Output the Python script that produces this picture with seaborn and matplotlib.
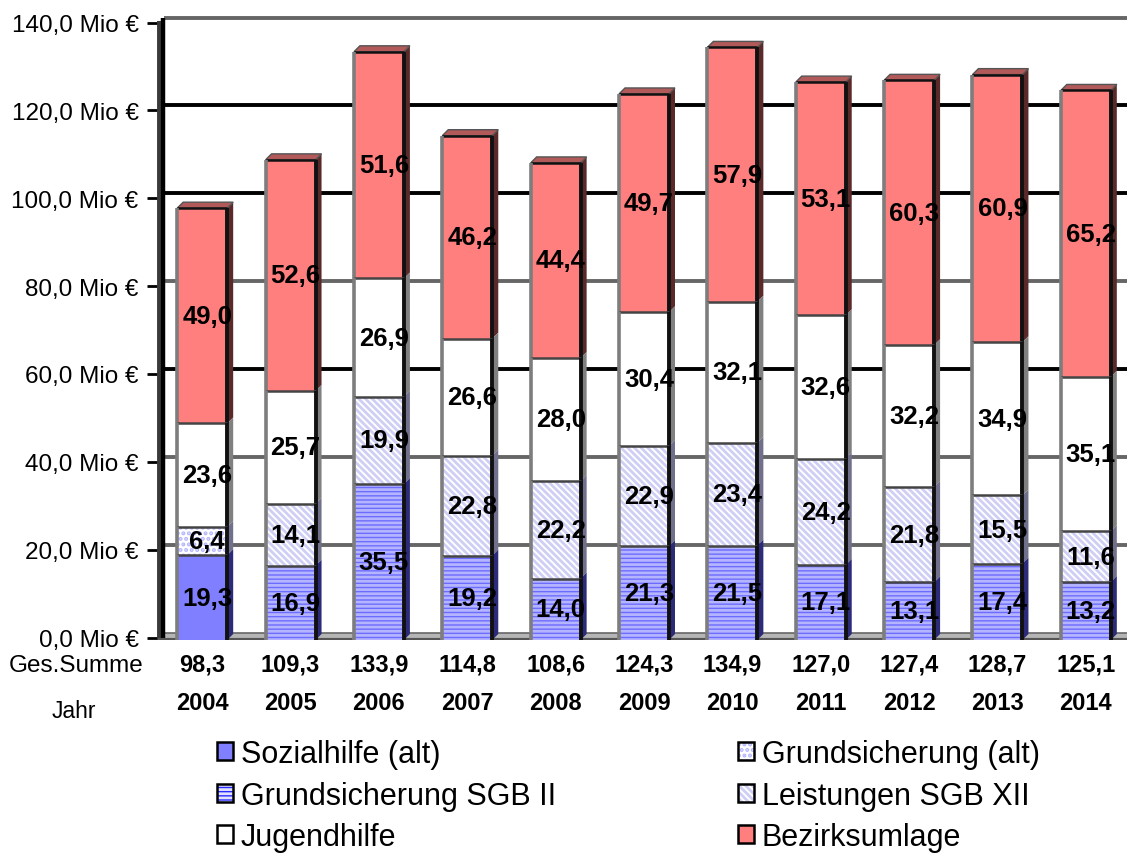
import numpy as np
import matplotlib
matplotlib.use("Agg")
import matplotlib.pyplot as plt
from matplotlib.colors import to_rgba
from matplotlib.patches import Patch, Polygon
from matplotlib.transforms import ScaledTranslation
import seaborn as sns

years = ["2004", "2005", "2006", "2007", "2008", "2009", "2010", "2011", "2012", "2013", "2014"]
totals = [98.3, 109.3, 133.9, 114.8, 108.6, 124.3, 134.9, 127.0, 127.4, 128.7, 125.1]
sozialhilfe = [19.3, 0, 0, 0, 0, 0, 0, 0, 0, 0, 0]
grund_alt = [6.4, 0, 0, 0, 0, 0, 0, 0, 0, 0, 0]
sgb2 = [0, 16.9, 35.5, 19.2, 14.0, 21.3, 21.5, 17.1, 13.1, 17.4, 13.2]
sgb12 = [0, 14.1, 19.9, 22.8, 22.2, 22.9, 23.4, 24.2, 21.8, 15.5, 11.6]
jugend = [23.6, 25.7, 26.9, 26.6, 28.0, 30.4, 32.1, 32.6, 32.2, 34.9, 35.1]
bezirk = [49.0, 52.6, 51.6, 46.2, 44.4, 49.7, 57.9, 53.1, 60.3, 60.9, 65.2]
y_ticks = [0, 20, 40, 60, 80, 100, 120, 140]
grid_dark = [60, 100, 120]
grid_gray = [20, 40, 80, 140]

stack = [
    ("Sozialhilfe (alt)", sozialhilfe, "#7f7fff", None, None, "#2b2b7a"),
    ("Grundsicherung (alt)", grund_alt, "#ffffff", "...", "#b4b4ff", "#70708c"),
    ("Grundsicherung SGB II", sgb2, "#6c6cff", "----", "#b4b4ff", "#2b2b7a"),
    ("Leistungen SGB XII", sgb12, "#ffffff", "\\\\\\\\\\", "#cfcff5", "#70708c"),
    ("Jugendhilfe", jugend, "#ffffff", None, None, "#808080"),
    ("Bezirksumlage", bezirk, "#ff7f7f", None, None, "#5a2a2a"),
]

W, H = 1127, 854
DPI = 100
sns.set_theme(style="white")
plt.rcParams["font.family"] = ["Liberation Sans", "DejaVu Sans"]
plt.rcParams["hatch.linewidth"] = 2.0
plt.rcParams["text.color"] = "black"

fig = plt.figure(figsize=(W / DPI, H / DPI), dpi=DPI)
AX_L, AX_R, Y0, Y140 = 158, 1130, 641, 26
ax = fig.add_axes([AX_L / W, 1 - Y0 / H, (AX_R - AX_L) / W, (Y0 - Y140) / H])
px_x = (AX_R - AX_L) / 11
px_y = (Y0 - Y140) / 140
D = 6
dx, dy = D / px_x, D / px_y

cums = np.cumsum([s[1] for s in stack], axis=0)
bar_w = 50 / px_x
for i in range(len(stack) - 1, -1, -1):
    name, vals, fc, hatch, hc, side = stack[i]
    sns.barplot(x=years, y=cums[i], color=fc, saturation=1, width=bar_w, ax=ax,
                linewidth=0, zorder=2, order=years, err_kws={"linewidth": 0})
    bars = ax.patches[-len(years):]
    for k, b in enumerate(bars):
        if hatch:
            b.set_hatch(hatch)
            b.set_edgecolor(hc)
            b.set_linewidth(0)
        v = vals[k]
        if v <= 0:
            continue
        x0, x1 = b.get_x(), b.get_x() + b.get_width()
        top = cums[i][k]
        bot = top - v
        ax.add_patch(Polygon([(x1, bot), (x1 + dx, bot + dy), (x1 + dx, top + dy), (x1, top)],
                             closed=True, fc=side, ec="none", zorder=1.5, clip_on=False))
        ax.plot([x0, x1], [top, top], color="#444444" if i < 5 else "#111111", lw=1.8, zorder=3, solid_capstyle="butt")
        ax.plot([x1, x1], [bot, top], color="#111111", lw=2.8, zorder=3, solid_capstyle="butt")
        ax.plot([x0, x0], [bot, top], color="#7d7d7d", lw=2.6, zorder=3, solid_capstyle="butt")
        if i == len(stack) - 1:
            ax.add_patch(Polygon([(x0, top), (x0 + dx, top + dy), (x1 + dx, top + dy), (x1, top)],
                                 closed=True, fc="#b25959", ec="#555555", lw=1.0, zorder=1.6))
        ax.annotate(f"{v:.1f}".replace(".", ","), (k, bot + v / 2), xytext=(3.6, 0),
                    textcoords="offset points", ha="center", va="center",
                    fontsize=18.5, fontweight="bold", color="black", zorder=6)

ax.set_xlim(-0.5, 10.5)
ax.set_ylim(0, 140)
ax.set_xlabel("")
ax.set_ylabel("")
ax.set_xticks([])
ax.set_yticks(y_ticks)
ax.set_yticklabels([f"{t:.1f}".replace(".", ",") + " Mio €" for t in y_ticks], fontsize=17.5, color="black")
ax.tick_params(axis="y", length=8, width=2, color="black", left=True, pad=6)
ax.grid(False)
for s in ax.spines.values():
    s.set_visible(False)
tick_shift = ScaledTranslation(0, 2.5 / DPI, fig.dpi_scale_trans)
for tick in ax.yaxis.get_major_ticks():
    tick.tick1line.set_transform(tick.tick1line.get_transform() + tick_shift)
    tick.label1.set_transform(tick.label1.get_transform() + tick_shift)
    tick.tick1line.set_clip_on(False)

back = ax.get_yaxis_transform() + ScaledTranslation(0, 7.5 / DPI, fig.dpi_scale_trans)
gx = 6 / (AX_R - AX_L)
ax.hlines(grid_dark, gx, 1, transform=back, color="black", lw=2.8, zorder=0.5, clip_on=False)
ax.hlines(grid_gray, gx, 1, transform=back, color="#666666", lw=2.8, zorder=0.5, clip_on=False)

# floor band and walls
ax.axhspan(0, 7.5 / px_y, xmin=gx, xmax=1, fc="#b5b5b5", ec="#666666", lw=1.2, zorder=0.6)
ax.axhline(0, color="#555555", lw=3, zorder=1.4)
ytr = ax.get_yaxis_transform()
ax.vlines(0.001, 0, 141, transform=ytr, color="#3a3a3a", lw=2.8, zorder=1, clip_on=False)
ax.vlines(5 / (AX_R - AX_L), 0, 141.5, transform=ytr, color="black", lw=3.2, zorder=1, clip_on=False)

fx = lambda p: p / W
fy = lambda p: 1 - p / H
fig.text(fx(143), fy(666), "Ges.Summe", ha="right", va="center", fontsize=17.5)
fig.text(fx(74), fy(711), "Jahr", ha="center", va="center", fontsize=16.5)
for k, (t, yr) in enumerate(zip(totals, years)):
    x = ax.transData.transform((k, 0))[0] / W
    fig.text(x, fy(665), f"{t:.1f}".replace(".", ","), ha="center", va="center", fontsize=17, fontweight="bold")
    fig.text(x, fy(704), yr, ha="center", va="center", fontsize=17, fontweight="bold")

handles, labels = [], []
for idx in [0, 2, 4, 1, 3, 5]:
    name, vals, fc, hatch, hc, side = stack[idx]
    p = Patch(facecolor=fc if idx != 2 else "#2a2aff", edgecolor="black", linewidth=1.8, hatch=hatch)
    if hc:
        p._hatch_color = to_rgba(hc if idx != 2 else "#e0e0ff")
    handles.append(p)
    labels.append(name)
fig.legend(handles, labels, ncol=2, frameon=False, loc="upper left",
           bbox_to_anchor=(fx(217), fy(740)), borderaxespad=0, borderpad=0,
           fontsize=22, handlelength=0.52, handleheight=0.52, handletextpad=0.26,
           labelspacing=0.38, columnspacing=5.96)

fig.savefig("out.png", dpi=DPI)
